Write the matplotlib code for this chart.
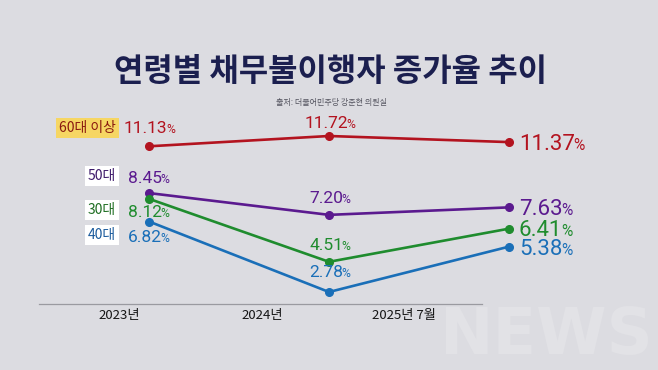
import matplotlib
matplotlib.use("Agg")
import matplotlib.pyplot as plt

plt.rcParams['font.family'] = ['Noto Sans CJK KR', 'DejaVu Sans']

# ---- data ----
periods = ["2023년", "2024년", "2025년 7월"]
groups = ["60대 이상", "50대", "30대", "40대"]
v60 = [11.13, 11.72, 11.37]
v50 = [8.45, 7.20, 7.63]
v30 = [8.12, 4.51, 6.41]
v40 = [6.82, 2.78, 5.38]
series = [v60, v50, v30, v40]
colors = ["#b3131f", "#5b1a8f", "#1f8c2e", "#1a6fb8"]
tag_text_colors = ["#8a1a10", "#3d1a6a", "#1f6e22", "#1a5a9c"]
tag_bg = ["#f6d663", "white", "white", "white"]

W, H = 658, 370
fig = plt.figure(figsize=(W / 100, H / 100), dpi=100)
bg = "#dcdce1"
fig.patch.set_facecolor(bg)

def fx(x):
    return x / W

def fy(y):
    return 1 - y / H

# faint watermark
fig.text(fx(546), fy(336), "NEWS", fontsize=46, fontweight='bold', color="#e2e2e6",
         ha='center', va='center', family='DejaVu Sans', zorder=0)

ax = fig.add_axes([0, 0, 1, 1])
ax.set_facecolor('none')
ax.set_xlim(-149 / 180, 509 / 180)
ax.set_ylim(2.78 - 78 / 17.45, 2.78 + 292 / 17.45)
ax.axis('off')

xs = list(range(len(periods)))
for vals, c in zip(series, colors):
    ax.plot(xs, vals, color=c, lw=1.9, marker='o', ms=5.5, solid_capstyle='round', zorder=3)

# baseline
ax.plot([39 / W, 482 / W], [fy(304), fy(304)], transform=ax.transAxes, color="#9a9aa0", lw=0.9)

# title / source
fig.text(fx(330), fy(72), "연령별 채무불이행자 증가율 추이", fontsize=23, fontweight='bold',
         color="#1b1f4f", ha='center', va='center')
fig.text(fx(331), fy(102), "출처: 더불어민주당 강준현 의원실", fontsize=5.8,
         color="#555560", ha='center', va='center')

renderer = fig.canvas.get_renderer()

def pct_label(x, ybase, val, color, size, ha='left'):
    num = f"{val:.2f}"
    t = fig.text(fx(x), fy(ybase), num, fontsize=size, color=color, ha='left',
                 va='baseline', family=['Roboto', 'DejaVu Sans'])
    bb = t.get_window_extent(renderer)
    p = fig.text(0, fy(ybase), "%", fontsize=size * 0.7, color=color, ha='left',
                 va='baseline', family=['Roboto', 'DejaVu Sans'])
    pb = p.get_window_extent(renderer)
    gap = -1.5
    total = bb.width + gap + pb.width
    x0 = x - total / 2 if ha == 'center' else x
    t.set_x(fx(x0))
    p.set_x(fx(x0 + bb.width + gap))

# left labels
left_base = [133, 183, 217, 242]
left_x = [124, 128, 128, 128]
for i in range(4):
    pct_label(left_x[i], left_base[i], series[i][0], colors[i], 12.5)

# tags
tag_y = [128, 176, 210, 235]
for i in range(4):
    fig.text(fx(116), fy(tag_y[i]), groups[i], fontsize=10, color=tag_text_colors[i],
             ha='right', va='center', fontweight='medium',
             bbox=dict(boxstyle='square,pad=0.2', fc=tag_bg[i], ec='none'))

# middle labels
mid_base = [128, 203, 250, 277]
for i in range(4):
    pct_label(330, mid_base[i], series[i][1], colors[i], 12.5, ha='center')

# right labels
right_base = [150, 215, 236, 255]
for i in range(4):
    pct_label(519, right_base[i], series[i][2], colors[i], 16)

# x labels
lab_x = [119, 262, 404]
for lx, lab in zip(lab_x, periods):
    fig.text(fx(lx), fy(315), lab, fontsize=9.5, color="#151515", ha='center', va='center',
             fontweight='medium')

fig.savefig("out.png", dpi=100, facecolor=fig.get_facecolor())
